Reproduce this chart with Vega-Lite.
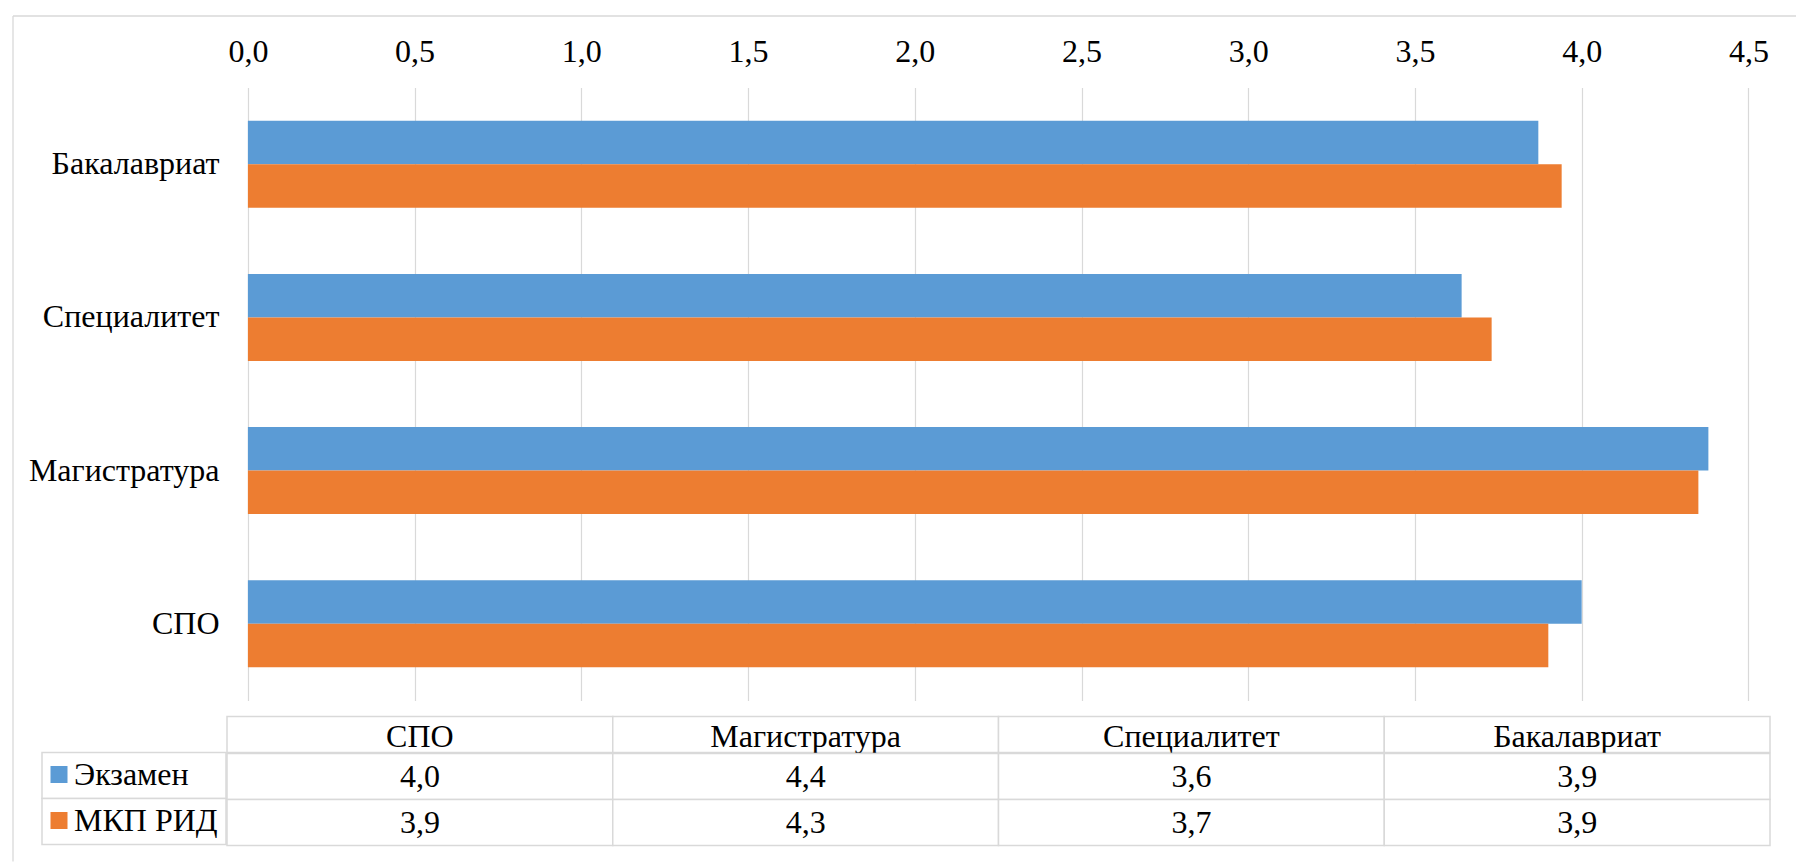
{
  "$schema": "https://vega.github.io/schema/vega-lite/v6.json",
  "padding": {"left": 12, "top": 15.5, "right": 0, "bottom": 0},
  "background": "white",
  "config": {
    "view": {"stroke": null},
    "font": "Liberation Serif, Times New Roman, serif",
    "locale": {"number": {"decimal": ",", "thousands": " ", "grouping": [3], "currency": ["", ""]}}
  },
  "datasets": {
    "scores": [
      {"level": "СПО", "series": "Экзамен", "value": 4.0},
      {"level": "СПО", "series": "МКП РИД", "value": 3.9},
      {"level": "Магистратура", "series": "Экзамен", "value": 4.38},
      {"level": "Магистратура", "series": "МКП РИД", "value": 4.35},
      {"level": "Специалитет", "series": "Экзамен", "value": 3.64},
      {"level": "Специалитет", "series": "МКП РИД", "value": 3.73},
      {"level": "Бакалавриат", "series": "Экзамен", "value": 3.87},
      {"level": "Бакалавриат", "series": "МКП РИД", "value": 3.94}
    ],
    "levels": [
      {"level": "СПО"}, {"level": "Магистратура"}, {"level": "Специалитет"}, {"level": "Бакалавриат"}
    ],
    "seriesList": [{"series": "Экзамен"}, {"series": "МКП РИД"}]
  },
  "bounds": "flush",
  "spacing": 16,
  "vconcat": [
    {
      "width": 1727,
      "height": 613,
      "layer": [
        {
          "data": {"name": "scores"},
          "mark": {"type": "bar"},
          "encoding": {
            "y": {
              "field": "level", "type": "nominal",
              "sort": ["Бакалавриат", "Специалитет", "Магистратура", "СПО"],
              "scale": {"paddingInner": 0.4323, "paddingOuter": 0.2162},
              "axis": {"orient": "left", "title": null, "domain": false, "ticks": false, "tickSize": 0, "labelPadding": -177, "labelAlign": "right", "labelFontSize": 32, "labelFont": "Liberation Serif, Times New Roman, serif", "labelColor": "#000000", "labelLimit": 0, "grid": false}
            },
            "yOffset": {"field": "series", "type": "nominal", "sort": ["Экзамен", "МКП РИД"]},
            "x": {
              "field": "value", "type": "quantitative",
              "scale": {"domain": [-0.6175, 4.5618], "nice": false, "zero": false},
              "axis": {"orient": "top", "title": null, "values": [0, 0.5, 1, 1.5, 2, 2.5, 3, 3.5, 4, 4.5], "format": ".1f", "grid": true, "gridColor": "#d9d9d9", "gridWidth": 1.2, "domain": false, "ticks": false, "tickSize": 0, "labelPadding": 26, "labelBaseline": "alphabetic", "labelFontSize": 32, "labelFont": "Liberation Serif, Times New Roman, serif", "labelColor": "#000000", "labelFlush": false, "labelOverlap": false}
            },
            "x2": {"datum": 0},
            "color": {
              "field": "series", "type": "nominal",
              "scale": {"domain": ["Экзамен", "МКП РИД"], "range": ["#5b9bd5", "#ed7d31"]},
              "legend": {"orient": "none", "legendX": 1, "legendY": 671, "direction": "vertical", "title": null, "symbolType": "square", "symbolSize": 289, "symbolStrokeWidth": 0, "symbolOpacity": 1, "labelFont": "Liberation Serif, Times New Roman, serif", "labelFontSize": 32, "labelColor": "#000000", "labelOffset": -1, "rowPadding": 14, "padding": 0, "labelLimit": 0}
            }
          }
        },
        {
          "data": {"values": []},
          "mark": {"type": "point", "opacity": 0},
          "encoding": {
            "x": {"field": "fx", "type": "quantitative", "scale": {"domain": [0, 1], "range": [-29.5, 1753.5], "nice": false, "zero": false}, "axis": {"orient": "top", "offset": 72, "title": null, "domain": true, "domainColor": "#d9d9d9", "domainWidth": 1.3, "ticks": false, "labels": false, "grid": false}},
            "y": {"field": "fy", "type": "quantitative", "scale": {"domain": [0, 1], "range": [-72, 773.5], "nice": false, "zero": false}, "axis": {"orient": "left", "offset": 29.5, "title": null, "domain": true, "domainColor": "#d9d9d9", "domainWidth": 1.3, "ticks": false, "labels": false, "grid": false}}
          }
        }
      ],
      "resolve": {"scale": {"x": "independent", "y": "independent"}, "axis": {"x": "independent", "y": "independent"}}
    },
    {
      "spacing": -2,
      "hconcat": [
        {
          "spacing": -1,
          "vconcat": [
            {"width": 184, "height": 36, "data": {"values": []}, "mark": "rect"},
            {
              "width": 184, "height": 92,
              "data": {"name": "seriesList"},
              "mark": {"type": "rect", "fill": "white", "stroke": "#d9d9d9", "strokeWidth": 1.5},
              "encoding": {
                "y": {"field": "series", "type": "nominal", "sort": ["Экзамен", "МКП РИД"], "scale": {"paddingInner": 0, "paddingOuter": 0}, "axis": null}
              }
            }
          ]
        },
        {
          "spacing": -2,
          "vconcat": [
            {
              "width": 1543, "height": 36,
              "data": {"name": "levels"},
              "encoding": {
                "x": {"field": "level", "type": "nominal", "sort": ["СПО", "Магистратура", "Специалитет", "Бакалавриат"], "scale": {"paddingInner": 0, "paddingOuter": 0}, "axis": null}
              },
              "layer": [
                {"mark": {"type": "rect", "fill": "white", "stroke": "#d9d9d9", "strokeWidth": 1.5}},
                {"mark": {"type": "text", "font": "Liberation Serif, Times New Roman, serif", "fontSize": 32, "color": "#000000", "dy": 2}, "encoding": {"text": {"field": "level"}}}
              ]
            },
            {
              "width": 1543, "height": 92,
              "data": {"name": "scores"},
              "encoding": {
                "x": {"field": "level", "type": "nominal", "sort": ["СПО", "Магистратура", "Специалитет", "Бакалавриат"], "scale": {"paddingInner": 0, "paddingOuter": 0}, "axis": null},
                "y": {"field": "series", "type": "nominal", "sort": ["Экзамен", "МКП РИД"], "scale": {"paddingInner": 0, "paddingOuter": 0}, "axis": null}
              },
              "layer": [
                {"mark": {"type": "rect", "fill": "white", "stroke": "#d9d9d9", "strokeWidth": 1.5}},
                {"mark": {"type": "text", "font": "Liberation Serif, Times New Roman, serif", "fontSize": 32, "color": "#000000"}, "encoding": {"text": {"field": "value", "type": "quantitative", "format": ".1f"}}}
              ]
            }
          ]
        }
      ]
    }
  ]
}
